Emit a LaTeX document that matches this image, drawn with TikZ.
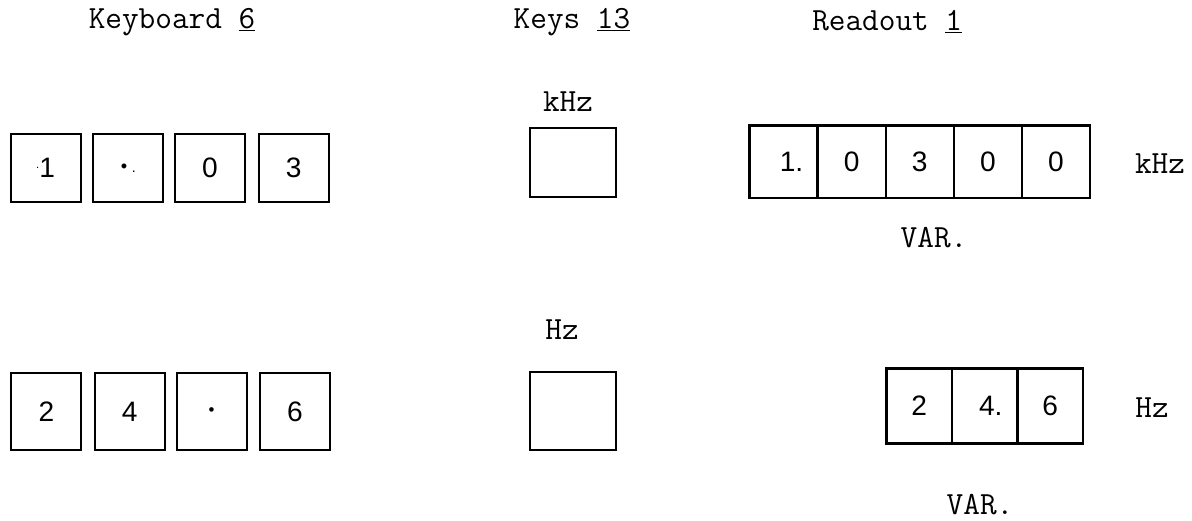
\documentclass[tikz,border=0pt]{standalone}
\usepackage{fontspec}
\setmainfont{Liberation Sans}
\usetikzlibrary{positioning}

\tikzset{
    label text/.style={font=\ttfamily\fontsize{23}{25}\selectfont, inner sep=0pt},
    key/.style={draw=black, line width=1.5pt, minimum width=1.75cm, inner sep=0pt,
        font=\fontsize{20}{22}\selectfont},
    cell/.style={draw=black, line width=0.8pt, minimum height=1.78cm, inner sep=0pt,
        font=\fontsize{20}{22}\selectfont}
}

\begin{document}
\begin{tikzpicture}

    \useasboundingbox (0,0) rectangle (29.8,-13.025);

    % headings
    \node[label text] (kbhead) at (4.3,-0.55) {Keyboard \underline{6}};
    \node[label text] (keyshead) at (14.3,-0.55) {Keys \underline{13}};
    \node[label text] (readhead) at (22.18,-0.55) {Readout \underline{1}};

    % keyboard, first row
    \node[key, minimum height=1.7cm] (kbA) at (1.14,-4.2) {\raisebox{0.6ex}{\fontsize{8}{8}\selectfont .}1};
    \node[key, minimum height=1.7cm] (kbB) at (3.21,-4.2) {{\fontsize{13}{13}\selectfont •}\,{\fontsize{10}{10}\selectfont .}};
    \node[key, minimum height=1.7cm] (kbC) at (5.25,-4.2) {0};
    \node[key, minimum height=1.7cm] (kbD) at (7.34,-4.2) {3};

    % keyboard, second row
    \node[key, minimum height=1.93cm] (kbE) at (1.16,-10.29) {2};
    \node[key, minimum height=1.93cm] (kbF) at (3.24,-10.29) {4};
    \node[key, minimum height=1.93cm] (kbG) at (5.29,-10.29) {{\fontsize{12}{12}\selectfont •}};
    \node[key, minimum height=1.93cm] (kbH) at (7.375,-10.29) {6};

    % unit keys
    \node[label text] (khzlabel) at (14.2,-2.55) {kHz};
    \node[key, minimum width=2.15cm, minimum height=1.73cm] (khzkey) at (14.33,-4.06) {};
    \node[label text] (hzlabel) at (14.05,-8.25) {Hz};
    \node[key, minimum width=2.15cm, minimum height=1.95cm] (hzkey) at (14.33,-10.28) {};

    % readout, kHz line
    \node[cell, minimum width=1.675cm] (rdA) at (19.5875,-4.04) {\hspace{0.4cm}1.};
    \node[cell, minimum width=1.675cm, right=0pt of rdA] (rdB) {0};
    \node[cell, minimum width=1.675cm, right=0pt of rdB] (rdC) {3};
    \node[cell, minimum width=1.675cm, right=0pt of rdC] (rdD) {0};
    \node[cell, minimum width=1.675cm, right=0pt of rdD] (rdE) {0};
    \draw[line width=1.5pt] (rdA.north west) rectangle (rdE.south east);
    \node[label text] (rdkhz) at (29.0,-4.08) {kHz};
    \node[label text] (rdvarA) at (23.35,-5.95) {VAR.};

    % readout, Hz line
    \node[cell, minimum width=1.61cm, minimum height=1.85cm] (rdF) at (22.98,-10.15) {2};
    \node[cell, minimum width=1.61cm, minimum height=1.85cm, right=0pt of rdF] (rdG) {\hspace{0.3cm}4.};
    \node[cell, minimum width=1.61cm, minimum height=1.85cm, right=0pt of rdG] (rdH) {6};
    \draw[line width=1.5pt] (rdF.north west) rectangle (rdH.south east);
    \node[label text] (rdhz) at (28.8,-10.2) {Hz};
    \node[label text] (rdvarB) at (24.5,-12.62) {VAR.};

\end{tikzpicture}
\end{document}
